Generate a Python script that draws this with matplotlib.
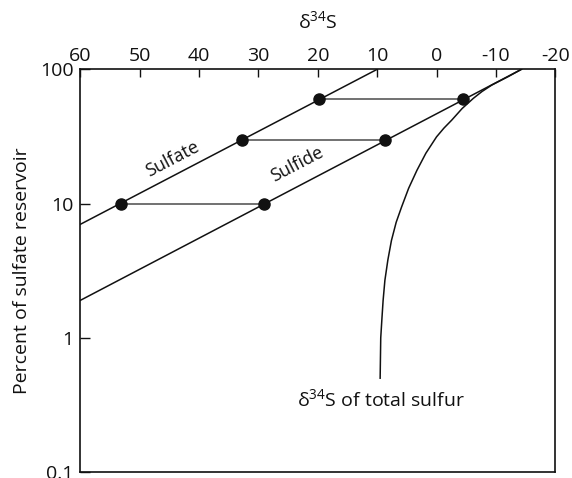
import matplotlib
matplotlib.use("Agg")
import matplotlib.pyplot as plt
from matplotlib.ticker import FixedLocator, FixedFormatter, NullLocator

plt.rcParams['font.family'] = ['Open Sans', 'DejaVu Sans']
plt.rcParams['mathtext.fontset'] = 'custom'
plt.rcParams['mathtext.rm'] = 'Open Sans'
plt.rcParams['mathtext.it'] = 'Open Sans'

# Rayleigh fractionation lines (delta34S in permil vs percent of sulfate left)
sulfate_d34s = [60, 10]
sulfate_pct = [7.0, 100]
sulfide_d34s = [60, -14.3]
sulfide_pct = [1.9, 100]

# Paired sulfate / sulfide points at equal reservoir fractions
pair_pct = [10, 30, 60]
pair_sulfate = [53.2, 32.7, 19.8]
pair_sulfide = [29.0, 8.6, -4.4]

# delta34S of total (accumulated) sulfur
total_d34s = [-14.3, -12.1, -9.3, -7.65, -6.2, -4.3, -2.55, -1.25, 0.0, 1.8,
              3.3, 4.7, 5.9, 6.8, 7.6, 8.2, 8.7, 9.0, 9.2, 9.4, 9.45, 9.5]
total_pct = [100, 88.4, 76.3, 68.3, 60.8, 51.0, 41.8, 36.5, 31.4, 23.7,
             17.7, 13.0, 9.4, 7.25, 5.3, 3.8, 2.68, 1.9, 1.39, 1.0, 0.71, 0.5]

x_ticks = [60, 50, 40, 30, 20, 10, 0, -10, -20]
y_ticks = [0.1, 1, 10, 100]
y_tick_labels = ['0.1', '1', '10', '100']

fig = plt.figure(figsize=(5.72, 4.78), dpi=100)
ax = fig.add_axes([0.1404, 0.0125, 0.8304, 0.8425])

ink = '#111111'
ax.plot(sulfate_d34s, sulfate_pct, color=ink, lw=1.1)
ax.plot(sulfide_d34s, sulfide_pct, color=ink, lw=1.1)
ax.plot(total_d34s, total_pct, color=ink, lw=1.1)
for p, a, b in zip(pair_pct, pair_sulfate, pair_sulfide):
    ax.plot([a, b], [p, p], color='#4a4a4a', lw=1.1, zorder=2)
ax.plot(pair_sulfate, pair_pct, 'o', color=ink, ms=8, zorder=3)
ax.plot(pair_sulfide, pair_pct, 'o', color=ink, ms=8, zorder=3)

ax.set_xlim(60, -20)
ax.set_yscale('log')
ax.set_ylim(0.1, 100)

ax.xaxis.set_major_locator(FixedLocator(x_ticks))
ax.xaxis.set_minor_locator(NullLocator())
ax.xaxis.tick_top()
ax.xaxis.set_label_position('top')
ax.tick_params(axis='x', direction='in', length=6, width=1.0, labelsize=14,
               pad=3, top=True, bottom=False, colors=ink)
ax.set_xticklabels([str(v) for v in x_ticks])

ax.yaxis.set_major_locator(FixedLocator(y_ticks))
ax.yaxis.set_major_formatter(FixedFormatter(y_tick_labels))
ax.yaxis.set_minor_locator(NullLocator())
ax.tick_params(axis='y', direction='in', length=7, width=1.0, labelsize=14,
               pad=5, left=True, right=False, colors=ink)

for s in ax.spines.values():
    s.set_linewidth(1.2)
    s.set_color(ink)

ax.set_xlabel('δ$^{34}$S', fontsize=14, labelpad=14, color=ink)
ax.set_ylabel('Percent of sulfate reservoir', fontsize=14, labelpad=6, color=ink)

ax.text(44.5, 21.5, 'Sulfate', rotation=27.6, ha='center', va='center',
        fontsize=13, color=ink, rotation_mode='anchor')
ax.text(23.5, 19.5, 'Sulfide', rotation=27.5, ha='center', va='center',
        fontsize=13, color=ink, rotation_mode='anchor')
ax.text(9.4, 0.35, 'δ$^{34}$S of total sulfur', ha='center', va='center',
        fontsize=14, color=ink)

fig.savefig('out.png', dpi=100)
